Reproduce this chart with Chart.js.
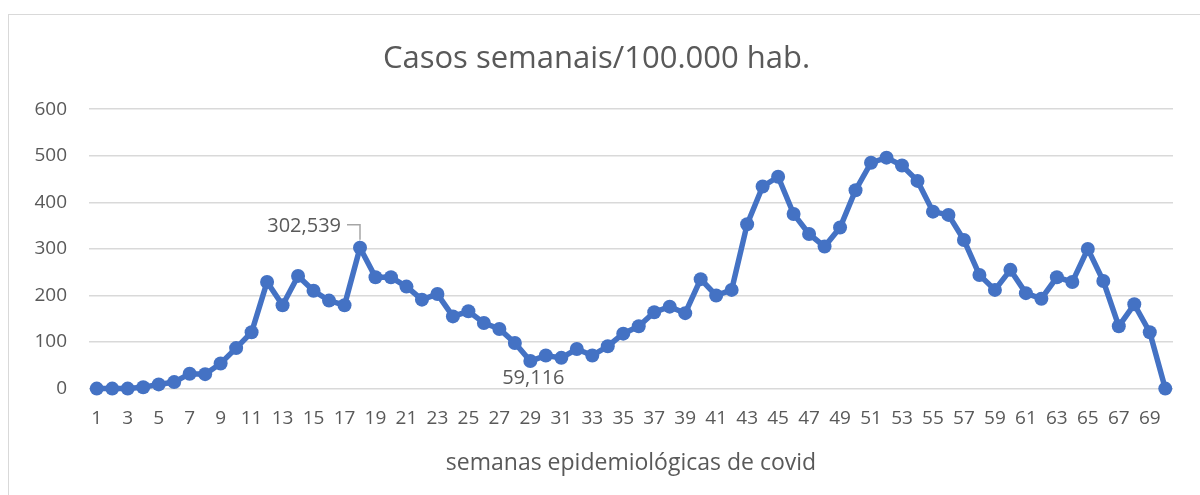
<!DOCTYPE html>
<html>
<head>
<meta charset="utf-8">
<script src="https://cdn.jsdelivr.net/npm/chart.js@4.4.0/dist/chart.umd.min.js"></script>
<style>
  html, body { margin: 0; padding: 0; background: #fff; }
  .frame { position: absolute; left: 8px; top: 14px; width: 1300px; height: 600px; border: 1px solid #d9d9d9; }
  .wrap { position: absolute; left: 0; top: 0; width: 1200px; height: 495px; }
</style>
</head>
<body>
<div class="frame"></div>
<div class="wrap"><canvas id="chart" width="1200" height="495"></canvas></div>
<script>
// semanas 1..70
const weeks = [];
for (let i = 1; i <= 70; i++) weeks.push(String(i));

const cases = [
  0, 0, 0, 3, 9, 14, 32, 31, 54, 87,
  121, 229, 179, 242, 210, 189, 179, 302.539, 239, 239,
  219, 191, 203, 155, 166, 141, 128, 98, 59.116, 71,
  66, 85, 71, 91, 118, 134, 164, 176, 162, 235,
  200, 212, 353, 434, 455, 375, 332, 305, 346, 426,
  485, 496, 479, 446, 380, 373, 319, 244, 212, 255,
  205, 193, 239, 229, 300, 231, 134, 181, 121, 0
];

const yTicks = [0, 100, 200, 300, 400, 500, 600];
// points that carry a value label
const labelIdx = [17, 28];

const blue = '#4472C4';
const grey = '#595959';
const fontFam = "'Open Sans', sans-serif";

const dataLabels = {
  id: 'dataLabels',
  afterDatasetsDraw(chart) {
    const { ctx } = chart;
    const meta = chart.getDatasetMeta(0);
    ctx.save();
    ctx.font = '20px ' + fontFam;
    ctx.fillStyle = grey;
    ctx.textBaseline = 'middle';
    labelIdx.forEach(i => {
      const pt = meta.data[i];
      const txt = cases[i].toFixed(3).replace('.', ',');
      if (i === 17) {
        // label up-left with a leader line
        ctx.textAlign = 'right';
        ctx.fillText(txt, pt.x - 19, pt.y - 21);
        ctx.strokeStyle = '#a6a6a6';
        ctx.lineWidth = 1.5;
        ctx.beginPath();
        ctx.moveTo(pt.x - 13, pt.y - 23);
        ctx.lineTo(pt.x, pt.y - 23);
        ctx.lineTo(pt.x, pt.y - 8);
        ctx.stroke();
      } else {
        ctx.textAlign = 'center';
        ctx.fillText(txt, pt.x + 3, pt.y + 17);
      }
    });
    ctx.restore();
  }
};

new Chart(document.getElementById('chart'), {
  type: 'line',
  data: {
    labels: weeks,
    datasets: [{
      data: cases,
      borderColor: blue,
      backgroundColor: blue,
      borderWidth: 5.5,
      pointRadius: 7,
      pointBorderWidth: 0,
      pointBackgroundColor: blue,
      tension: 0,
      clip: false
    }]
  },
  options: {
    responsive: false,
    animation: false,
    layout: { padding: { left: 20, right: 27, top: 41, bottom: 14 } },
    plugins: {
      legend: { display: false },
      tooltip: { enabled: false },
      title: {
        display: true,
        text: 'Casos semanais/100.000 hab.',
        color: grey,
        font: { family: fontFam, size: 31, weight: 'normal' },
        padding: { top: 0, bottom: 31 }
      }
    },
    scales: {
      x: {
        offset: true,
        grid: { display: false, drawTicks: false },
        border: { display: false },
        ticks: {
          autoSkip: false,
          maxRotation: 0,
          color: grey,
          padding: 19,
          font: { family: fontFam, size: 19 },
          callback: function (v, i) { return i % 2 === 0 ? weeks[i] : ''; }
        },
        title: {
          display: true,
          text: 'semanas epidemiológicas de covid',
          color: grey,
          font: { family: fontFam, size: 23 },
          padding: { top: 0 }
        }
      },
      y: {
        min: 0,
        max: 600,
        afterBuildTicks: s => { s.ticks = yTicks.map(v => ({ value: v })); },
        afterFit: s => { s.width = 69; },
        grid: { color: '#d9d9d9', lineWidth: 1.5, drawTicks: false },
        border: { display: false },
        ticks: {
          color: grey,
          padding: 22,
          font: { family: fontFam, size: 19 }
        }
      }
    }
  },
  plugins: [dataLabels]
});
</script>
</body>
</html>
